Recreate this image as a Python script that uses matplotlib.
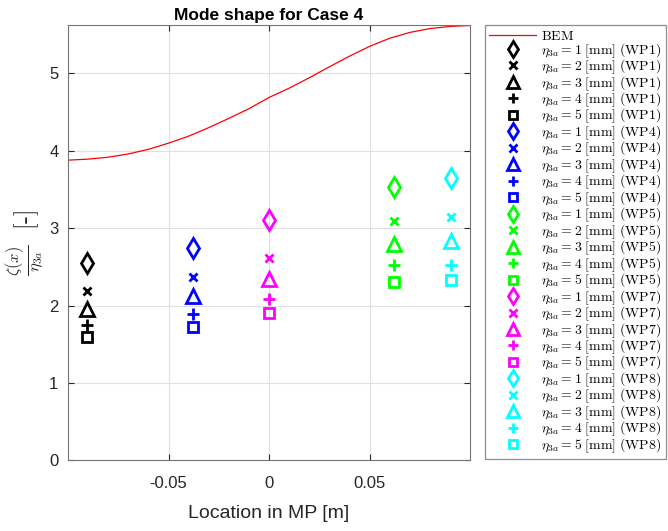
import numpy as np
import matplotlib
matplotlib.use('Agg')
import matplotlib.pyplot as plt

plt.rcParams['font.family'] = ['Liberation Sans', 'DejaVu Sans']
plt.rcParams['mathtext.fontset'] = 'cm'

# BEM mode shape
bem_x = [-0.10, -0.09, -0.08, -0.07, -0.06, -0.05, -0.04, -0.03, -0.02, -0.01, 0.0,
         0.01, 0.02, 0.03, 0.04, 0.05, 0.06, 0.07, 0.08, 0.09, 0.10]
bem_y = [3.88, 3.893, 3.918, 3.96, 4.02, 4.10, 4.19, 4.30, 4.42, 4.545, 4.69,
         4.81, 4.944, 5.086, 5.223, 5.35, 5.455, 5.53, 5.58, 5.608, 5.62]

# wave probes: location and measured values for eta_3a = 1..5 mm
probes = ['WP1', 'WP4', 'WP5', 'WP7', 'WP8']
probe_x = [-0.0905, -0.038, 0.062, 0.0, 0.0905]
amps = [1, 2, 3, 4, 5]
wp1 = [2.55, 2.19, 1.96, 1.75, 1.59]
wp4 = [2.75, 2.37, 2.13, 1.89, 1.72]
wp5 = [3.53, 3.09, 2.80, 2.52, 2.30]
wp7 = [3.11, 2.62, 2.35, 2.08, 1.91]
wp8 = [3.65, 3.15, 2.83, 2.53, 2.33]
values = [wp1, wp4, wp5, wp7, wp8]

colors = ['k', (0, 0, 1), (0, 1, 0), (1, 0, 1), (0, 1, 1)]
markers = ['d', 'x', '^', '+', 's']
msizes = [10, 6, 10, 9, 7]

fig = plt.figure(figsize=(6.68, 5.31), dpi=100)
ax = fig.add_axes([0.102, 0.133, 0.6016, 0.819])

ax.plot(bem_x, bem_y, color='red', linewidth=0.9, label=r'$\mathrm{BEM}$')

for name, xp, vals, col in zip(probes, probe_x, values, colors):
    for a, v, m, ms in zip(amps, vals, markers, msizes):
        ax.plot([xp], [v], linestyle='none', marker=m, markersize=ms,
                markerfacecolor='none', markeredgecolor=col, markeredgewidth=2,
                label=r'$\eta_{3a} = %d\ \mathrm{[mm]}\ \mathrm{(%s)}$' % (a, name))

ax.set_xlim(-0.1, 0.1)
ax.set_ylim(0, max(bem_y))
ax.set_xticks([-0.05, 0, 0.05])
ax.set_xticklabels(['-0.05', '0', '0.05'])
ax.set_yticks([0, 1, 2, 3, 4, 5])
ax.grid(True, color='0.88', linewidth=0.8)
ax.set_axisbelow(True)
ax.tick_params(direction='in', top=True, right=True, labelsize=12,
               colors='0.15', length=4)
ax.tick_params(axis='x', pad=11)
ax.tick_params(axis='y', pad=7)
for s in ax.spines.values():
    s.set_color('0.45')

ax.set_title('Mode shape for Case 4', fontsize=12.5, fontweight='bold', pad=4)
ax.set_xlabel('Location in MP [m]', fontsize=14, color='0.15', labelpad=10)
ax.set_ylabel(r'$\frac{\zeta(x)}{\eta_{3a}}\ \ [\text{-}]$', fontsize=17, color='0.15', labelpad=2)

leg = fig.legend(loc='upper left', bbox_to_anchor=(485 / 668, 1 - 25 / 531),
                 borderaxespad=0, fontsize=9.9, fancybox=False, edgecolor='0.55',
                 framealpha=1, handlelength=3.4, labelspacing=-0.15, markerscale=0.85,
                 handletextpad=0.4, borderpad=0.3)
leg.get_frame().set_linewidth(0.9)

fig.savefig('out.png', dpi=100)
